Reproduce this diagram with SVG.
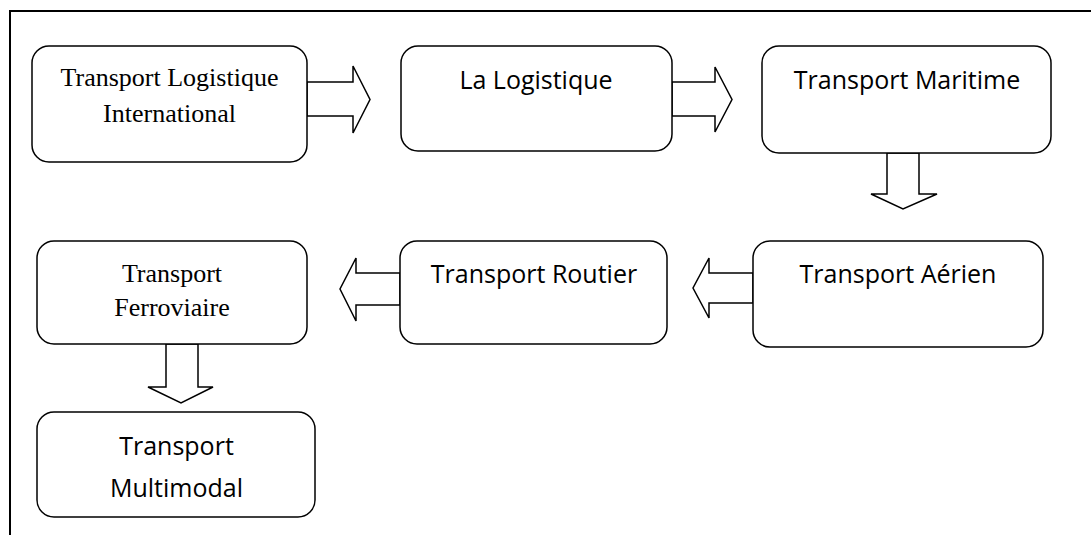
<svg xmlns="http://www.w3.org/2000/svg" width="1091" height="535" viewBox="0 0 1091 535">
  <style>
    .box { fill: #ffffff; stroke: #000000; stroke-width: 1.5; }
    .arrow { fill: #ffffff; stroke: #000000; stroke-width: 1.5; stroke-linejoin: miter; }
    .frame { fill: none; stroke: #000000; stroke-width: 2; }
    .serif { font-family: "Liberation Serif", "Times New Roman", serif; font-size: 26px; fill: #000000; text-anchor: middle; }
    .sans { font-family: "Open Sans", "Noto Sans", sans-serif; font-size: 25px; fill: #000000; text-anchor: middle; }
  </style>
  <rect width="1091" height="535" fill="#ffffff"/>

  <!-- page frame: top and left edges only -->
  <path class="frame" d="M10,535 V11 H1091"/>

  <!-- block arrows between steps -->
  <g id="connectors">
    <polygon class="arrow" points="307,82 353,82 353,66 370,99.5 353,133 353,116 307,116"/>
    <polygon class="arrow" points="672,82 715,82 715,67 732,99.5 715,132 715,116 672,116"/>
    <polygon class="arrow" points="887,153 887,194 871,194 903,209 937,194 919,194 919,153"/>
    <polygon class="arrow" points="753,273 709,273 709,258 693,288 709,318 709,303 753,303"/>
    <polygon class="arrow" points="400,273 356,273 356,258 340,289 356,321 356,305 400,305"/>
    <polygon class="arrow" points="166,344 166,387 148,387 181,403 213,387 198,387 198,344"/>
  </g>

  <g id="node-transport-logistique">
    <rect class="box" x="32" y="46" width="275" height="116" rx="17" ry="17"/>
    <text class="serif" x="169.5" y="86">Transport Logistique</text>
    <text class="serif" x="169.5" y="122">International</text>
  </g>

  <g id="node-logistique">
    <rect class="box" x="401" y="46" width="271" height="105" rx="17" ry="17"/>
    <text class="sans" x="536" y="89">La Logistique</text>
  </g>

  <g id="node-maritime">
    <rect class="box" x="762" y="46" width="289" height="107" rx="17" ry="17"/>
    <text class="sans" x="907" y="89">Transport Maritime</text>
  </g>

  <g id="node-aerien">
    <rect class="box" x="753" y="241" width="290" height="106" rx="17" ry="17"/>
    <text class="sans" x="898" y="283">Transport Aérien</text>
  </g>

  <g id="node-routier">
    <rect class="box" x="400" y="241" width="267" height="103" rx="17" ry="17"/>
    <text class="sans" x="534" y="283">Transport Routier</text>
  </g>

  <g id="node-ferroviaire">
    <rect class="box" x="37" y="241" width="270" height="103" rx="17" ry="17"/>
    <text class="serif" x="172" y="282">Transport</text>
    <text class="serif" x="172" y="316">Ferroviaire</text>
  </g>

  <g id="node-multimodal">
    <rect class="box" x="37" y="412" width="278" height="105" rx="17" ry="17"/>
    <text class="sans" x="176.5" y="455">Transport</text>
    <text class="sans" x="176.5" y="497">Multimodal</text>
  </g>
</svg>
